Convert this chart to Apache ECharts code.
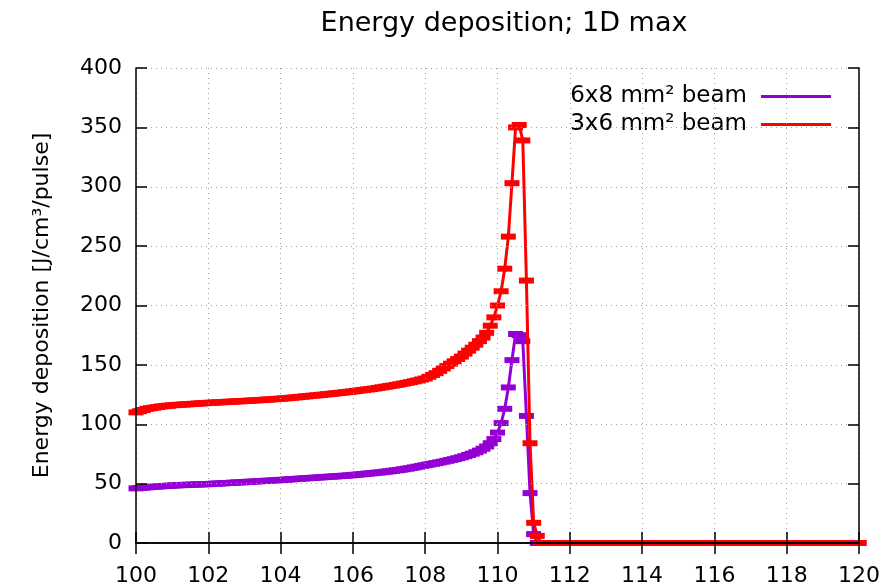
<!DOCTYPE html>
<html>
<head>
<meta charset="utf-8">
<script src="https://cdn.jsdelivr.net/npm/echarts@6/dist/echarts.min.js"></script>
<style>html,body{margin:0;padding:0;background:#fff}#c{width:887px;height:587px}</style>
</head>
<body>
<div id="c"></div>
<script>
var xs = [
100.0,100.1,100.2,100.3,100.4,100.5,100.6,100.7,100.8,100.9,
101.0,101.1,101.2,101.3,101.4,101.5,101.6,101.7,101.8,101.9,
102.0,102.1,102.2,102.3,102.4,102.5,102.6,102.7,102.8,102.9,
103.0,103.1,103.2,103.3,103.4,103.5,103.6,103.7,103.8,103.9,
104.0,104.1,104.2,104.3,104.4,104.5,104.6,104.7,104.8,104.9,
105.0,105.1,105.2,105.3,105.4,105.5,105.6,105.7,105.8,105.9,
106.0,106.1,106.2,106.3,106.4,106.5,106.6,106.7,106.8,106.9,
107.0,107.1,107.2,107.3,107.4,107.5,107.6,107.7,107.8,107.9,
108.0,108.1,108.2,108.3,108.4,108.5,108.6,108.7,108.8,108.9,
109.0,109.1,109.2,109.3,109.4,109.5,109.6,109.7,109.8,109.9,
110.0,110.1,110.2,110.3,110.4,110.5,110.6,110.7,110.8,110.9,
111.0,111.1,111.2,111.3,111.4,111.5,111.6,111.7,111.8,111.9,
112.0,112.1,112.2,112.3,112.4,112.5,112.6,112.7,112.8,112.9,
113.0,113.1,113.2,113.3,113.4,113.5,113.6,113.7,113.8,113.9,
114.0,114.1,114.2,114.3,114.4,114.5,114.6,114.7,114.8,114.9,
115.0,115.1,115.2,115.3,115.4,115.5,115.6,115.7,115.8,115.9,
116.0,116.1,116.2,116.3,116.4,116.5,116.6,116.7,116.8,116.9,
117.0,117.1,117.2,117.3,117.4,117.5,117.6,117.7,117.8,117.9,
118.0,118.1,118.2,118.3,118.4,118.5,118.6,118.7,118.8,118.9,
119.0,119.1,119.2,119.3,119.4,119.5,119.6,119.7,119.8,119.9,
120.0
];

var beam6x8 = [
46,46.3,46.6,46.9,47.2,47.4,47.6,47.8,48,48.2,
48.4,48.5,48.7,48.8,49,49.1,49.2,49.3,49.4,49.5,
49.6,49.8,50,50.1,50.3,50.5,50.6,50.8,51,51.1,
51.3,51.5,51.7,51.8,52,52.2,52.4,52.5,52.7,52.9,
53.1,53.3,53.5,53.7,53.9,54.1,54.3,54.5,54.7,54.9,
55.1,55.3,55.5,55.7,55.9,56.1,56.3,56.5,56.7,57,
57.2,57.5,57.8,58.1,58.4,58.7,59,59.3,59.6,60,
60.4,60.8,61.2,61.6,62.1,62.6,63.1,63.7,64.3,64.9,
65.5,66.1,66.7,67.3,67.9,68.5,69.2,69.9,70.6,71.4,
72.2,73.1,74.1,75.2,76.4,77.8,79.4,81.3,84,87.5,
93,101,113,131,154,176,175,170,107,42,
7.5,0,0,0,0,0,0,0,0,0,
0,0,0,0,0,0,0,0,0,0,
0,0,0,0,0,0,0,0,0,0,
0,0,0,0,0,0,0,0,0,0,
0,0,0,0,0,0,0,0,0,0,
0,0,0,0,0,0,0,0,0,0,
0,0,0,0,0,0,0,0,0,0,
0,0,0,0,0,0,0,0,0,0,
0,0,0,0,0,0,0,0,0,0,
0
];

var beam3x6 = [
110,111,112,113,113.5,114,114.5,115,115.3,115.6,
116,116.2,116.4,116.6,116.8,117,117.2,117.4,117.6,117.8,
118,118.2,118.3,118.5,118.6,118.8,119,119.1,119.3,119.4,
119.6,119.8,120,120.1,120.3,120.5,120.7,120.9,121.1,121.3,
121.5,121.8,122,122.3,122.6,122.9,123.2,123.5,123.8,124.1,
124.4,124.7,125,125.3,125.6,126,126.3,126.6,127,127.3,
127.7,128.1,128.5,128.9,129.3,129.7,130.1,130.6,131.1,131.6,
132.1,132.6,133.1,133.7,134.3,134.9,135.5,136.2,136.9,137.7,
138.5,140,141.5,143,145,147,149,151,153,155,
157,159.5,162,164.5,167,170,173,177,183,190,
200,212,231,258,303,350,352,339,221,84,
17,6,0,0,0,0,0,0,0,0,
0,0,0,0,0,0,0,0,0,0,
0,0,0,0,0,0,0,0,0,0,
0,0,0,0,0,0,0,0,0,0,
0,0,0,0,0,0,0,0,0,0,
0,0,0,0,0,0,0,0,0,0,
0,0,0,0,0,0,0,0,0,0,
0,0,0,0,0,0,0,0,0,0,
0,0,0,0,0,0,0,0,0,0,
0
];

var seriesNames = ['6x8 mm\u00b2 beam', '3x6 mm\u00b2 beam'];
var titleText = 'Energy deposition; 1D max';
var yName = 'Energy deposition [J/cm\u00b3/pulse]';

function pairs(v) { return xs.map(function (x, i) { return [x, v[i]]; }); }

var FONT = 'DejaVu Sans';
var chart = echarts.init(document.getElementById('c'), null, { renderer: 'canvas' });

var gridLine = { show: true, lineStyle: { color: '#a0a0a0', width: 1, type: [1, 4] } };
var axLine = { show: true, lineStyle: { color: '#000', width: 1.5 } };
var tick = { show: true, inside: true, length: 11, lineStyle: { color: '#000', width: 1.5 } };

chart.setOption({
  animation: false,
  backgroundColor: '#fff',
  title: {
    text: titleText, left: 499, top: 5, textAlign: 'center',
    textStyle: { fontFamily: FONT, fontSize: 27, fontWeight: 'normal', color: '#000' }
  },
  grid: { left: 136, right: 28, top: 68, bottom: 42, containLabel: false },
  legend: {
    orient: 'vertical', right: 51, top: 80, align: 'right', itemGap: 5,
    itemWidth: 70, itemHeight: 3, icon: 'rect',
    textStyle: { fontFamily: FONT, fontSize: 23, color: '#000', padding: [0, 9, 0, 0] },
    data: seriesNames
  },
  xAxis: [{
    type: 'value', min: 100, max: 120, interval: 2, z: 5,
    axisLine: axLine, axisTick: tick, splitLine: gridLine,
    axisLabel: { fontFamily: FONT, fontSize: 22, color: '#000', margin: 22 }
  }, {
    type: 'value', position: 'top', min: 100, max: 120, interval: 2, z: 5,
    axisLine: axLine, axisTick: tick, splitLine: { show: false }, axisLabel: { show: false }
  }],
  yAxis: [{
    type: 'value', min: 0, max: 400, interval: 50, z: 5,
    axisLine: axLine, axisTick: tick, splitLine: gridLine,
    axisLabel: { fontFamily: FONT, fontSize: 22, color: '#000', margin: 14 },
    name: yName, nameLocation: 'middle', nameRotate: 90, nameGap: 83,
    nameTextStyle: { fontFamily: FONT, fontSize: 22, color: '#000' }
  }, {
    type: 'value', position: 'right', min: 0, max: 400, interval: 50, z: 5,
    axisLine: axLine, axisTick: tick, splitLine: { show: false }, axisLabel: { show: false }
  }],
  series: [{
    name: seriesNames[0], type: 'line', data: pairs(beam6x8),
    color: '#9400d3', lineStyle: { width: 3, color: '#9400d3' },
    symbol: 'rect', symbolSize: [15, 6], showSymbol: true, showAllSymbol: true,
    itemStyle: { color: '#9400d3' }, z: 2
  }, {
    name: seriesNames[1], type: 'line', data: pairs(beam3x6),
    color: '#ff0000', lineStyle: { width: 3, color: '#ff0000' },
    symbol: 'rect', symbolSize: [15, 6], showSymbol: true, showAllSymbol: true,
    itemStyle: { color: '#ff0000' }, z: 3
  }]
});
</script>
</body>
</html>
